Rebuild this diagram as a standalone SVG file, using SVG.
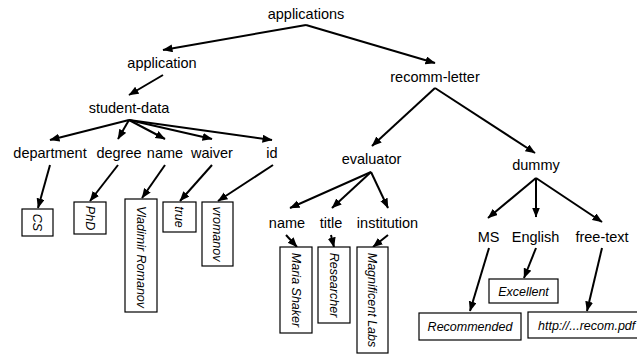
<svg xmlns="http://www.w3.org/2000/svg" width="637" height="356" viewBox="0 0 637 356">
  <style>
    .lbl { font-family: "Liberation Sans", Arial, sans-serif; font-size: 14.5px; fill: #000; text-anchor: middle; }
    .val { font-family: "Liberation Sans", Arial, sans-serif; font-size: 12.5px; font-style: italic; fill: #000; text-anchor: middle; }
    .box { fill: #fff; stroke: #000; stroke-width: 1.2; }
    .edge { stroke: #000; stroke-width: 2; fill: none; marker-end: url(#arrow); }
  </style>
  <defs>
    <marker id="arrow" markerUnits="userSpaceOnUse" markerWidth="11" markerHeight="9" refX="9.5" refY="4" orient="auto">
      <path d="M0,0 L10,4 L0,8 z" fill="#000"/>
    </marker>
  </defs>

  <!-- connectors -->
  <g id="connectors">
    <line class="edge" x1="306" y1="25" x2="163" y2="50"/>
    <line class="edge" x1="306" y1="25" x2="435" y2="63"/>
    <line class="edge" x1="163" y1="75" x2="129" y2="95"/>
    <line class="edge" x1="129" y1="120" x2="50" y2="140"/>
    <line class="edge" x1="129" y1="120" x2="118" y2="139"/>
    <line class="edge" x1="129" y1="120" x2="165" y2="139"/>
    <line class="edge" x1="129" y1="120" x2="212" y2="139"/>
    <line class="edge" x1="129" y1="120" x2="272" y2="140"/>
    <line class="edge" x1="50" y1="165" x2="38" y2="208"/>
    <line class="edge" x1="118" y1="165" x2="90" y2="201"/>
    <line class="edge" x1="165" y1="165" x2="142" y2="198"/>
    <line class="edge" x1="212" y1="165" x2="180" y2="201"/>
    <line class="edge" x1="273" y1="165" x2="218" y2="201"/>
    <line class="edge" x1="435" y1="88" x2="372" y2="146"/>
    <line class="edge" x1="435" y1="88" x2="535" y2="153"/>
    <line class="edge" x1="371" y1="172" x2="290" y2="208"/>
    <line class="edge" x1="371" y1="172" x2="332" y2="208"/>
    <line class="edge" x1="371" y1="172" x2="388" y2="208"/>
    <line class="edge" x1="286" y1="235" x2="297" y2="247"/>
    <line class="edge" x1="331" y1="235" x2="334" y2="247"/>
    <line class="edge" x1="388" y1="235" x2="373" y2="247"/>
    <line class="edge" x1="536" y1="178" x2="488" y2="218"/>
    <line class="edge" x1="536" y1="178" x2="536" y2="217"/>
    <line class="edge" x1="536" y1="178" x2="602" y2="222"/>
    <line class="edge" x1="489" y1="248" x2="470" y2="311"/>
    <line class="edge" x1="536" y1="248" x2="524" y2="278"/>
    <line class="edge" x1="602" y1="248" x2="587" y2="311"/>
  </g>

  <!-- element nodes -->
  <g id="n-applications"><text class="lbl" x="306" y="19">applications</text></g>
  <g id="n-application"><text class="lbl" x="162" y="68">application</text></g>
  <g id="n-recomm-letter"><text class="lbl" x="435" y="82">recomm-letter</text></g>
  <g id="n-student-data"><text class="lbl" x="129" y="113">student-data</text></g>
  <g id="n-department"><text class="lbl" x="50" y="158">department</text></g>
  <g id="n-degree"><text class="lbl" x="119" y="158">degree</text></g>
  <g id="n-name1"><text class="lbl" x="165" y="158">name</text></g>
  <g id="n-waiver"><text class="lbl" x="212" y="158">waiver</text></g>
  <g id="n-id"><text class="lbl" x="272" y="158">id</text></g>
  <g id="n-evaluator"><text class="lbl" x="371.5" y="164">evaluator</text></g>
  <g id="n-dummy"><text class="lbl" x="536" y="170">dummy</text></g>
  <g id="n-name2"><text class="lbl" x="287" y="228">name</text></g>
  <g id="n-title"><text class="lbl" x="331" y="228">title</text></g>
  <g id="n-institution"><text class="lbl" x="387.5" y="228">institution</text></g>
  <g id="n-ms"><text class="lbl" x="488.5" y="242">MS</text></g>
  <g id="n-english"><text class="lbl" x="535.5" y="242">English</text></g>
  <g id="n-free-text"><text class="lbl" x="602" y="242">free-text</text></g>

  <!-- value nodes (vertical) -->
  <g id="v-cs">
    <rect class="box" x="22" y="209" width="31" height="27"/>
    <text class="val" transform="translate(37.5,222.5) rotate(90)" y="4.5">CS</text>
  </g>
  <g id="v-phd">
    <rect class="box" x="74" y="202" width="32" height="32"/>
    <text class="val" transform="translate(90,218) rotate(90)" y="4.5">PhD</text>
  </g>
  <g id="v-vladimir">
    <rect class="box" x="125" y="199" width="32" height="113"/>
    <text class="val" transform="translate(141,257) rotate(90)" y="4.5">Vladimir Romanov</text>
  </g>
  <g id="v-true">
    <rect class="box" x="163" y="202" width="33" height="30"/>
    <text class="val" transform="translate(179.5,217) rotate(90)" y="4.5">true</text>
  </g>
  <g id="v-vromanov">
    <rect class="box" x="202" y="202" width="31" height="64"/>
    <text class="val" transform="translate(217.5,234) rotate(90)" y="4.5">vromanov</text>
  </g>
  <g id="v-maria">
    <rect class="box" x="280" y="247" width="32" height="86"/>
    <text class="val" transform="translate(296,290) rotate(90)" y="4.5">Maria Shaker</text>
  </g>
  <g id="v-researcher">
    <rect class="box" x="318" y="247" width="32" height="76"/>
    <text class="val" transform="translate(334,285) rotate(90)" y="4.5">Researcher</text>
  </g>
  <g id="v-magnificent">
    <rect class="box" x="357" y="247" width="31" height="106"/>
    <text class="val" transform="translate(372.5,300) rotate(90)" y="4.5">Magnificent Labs</text>
  </g>

  <!-- value nodes (horizontal) -->
  <g id="v-excellent">
    <rect class="box" x="489" y="279" width="69" height="24"/>
    <text class="val" x="523.5" y="295.5">Excellent</text>
  </g>
  <g id="v-recommended">
    <rect class="box" x="419" y="313" width="102" height="27"/>
    <text class="val" x="470" y="331">Recommended</text>
  </g>
  <g id="v-url">
    <rect class="box" x="528" y="312" width="120" height="26"/>
    <text class="val" x="538" y="330" style="text-anchor:start">http://...recom.pdf</text>
  </g>
</svg>
